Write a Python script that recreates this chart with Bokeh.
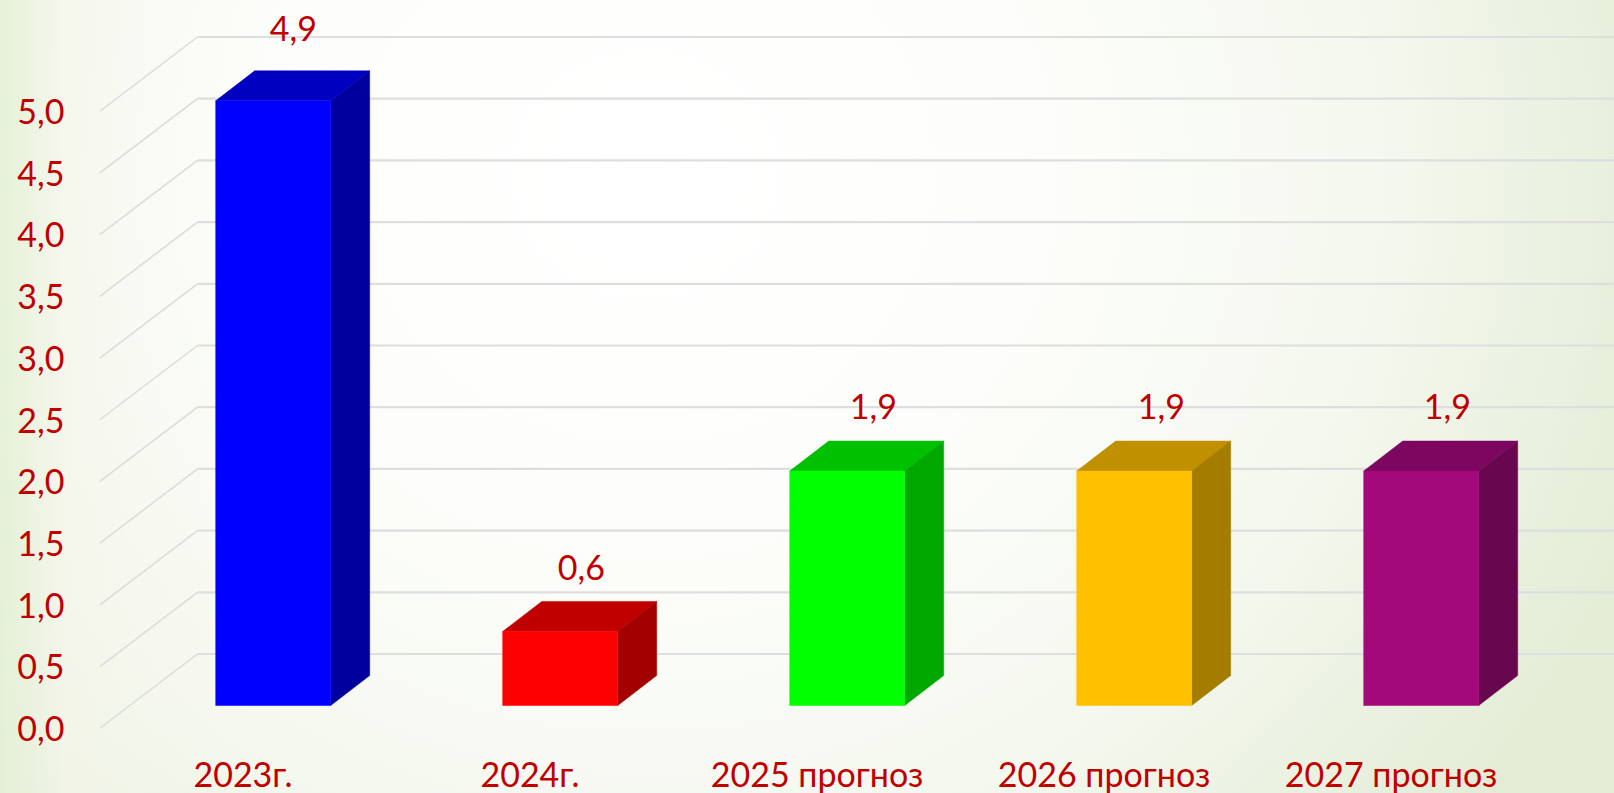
from bokeh.plotting import figure
from bokeh.models import ColumnDataSource, FixedTicker, Range1d
from bokeh.core.properties import value
from bokeh.embed import file_html
from bokeh.resources import INLINE

categories = ["2023г.", "2024г.", "2025 прогноз", "2026 прогноз", "2027 прогноз"]
values = [4.9, 0.6, 1.9, 1.9, 1.9]
value_labels = ["4,9", "0,6", "1,9", "1,9", "1,9"]
y_ticks = [0.0, 0.5, 1.0, 1.5, 2.0, 2.5, 3.0, 3.5, 4.0, 4.5, 5.0]
y_tick_labels = ["0,0", "0,5", "1,0", "1,5", "2,0", "2,5", "3,0", "3,5", "4,0", "4,5", "5,0"]
front_colors = ["#0000ff", "#ff0000", "#00ff00", "#ffc000", "#a3097a"]
top_colors = ["#0000c0", "#c00000", "#00c000", "#c09000", "#7c0660"]
side_colors = ["#00009f", "#a30000", "#00a800", "#a37c00", "#680650"]

RED = "#c00000"
FONT = "Lato"
FS = "34px"

# Layout: 287 px per category, 123.4 px per unit of value
PX_X, PX_Y = 287.0, 123.4
FLOOR_DX, FLOOR_DY = 98 / PX_X, 74.5 / PX_Y        # depth of the chart's floor
BAR_OFF_X, BAR_OFF_Y = 30.2 / PX_X, 23 / PX_Y      # bar front plane within the floor
BAR_HALF = 57.5 / PX_X
BAR_DX, BAR_DY = 39 / PX_X, 30 / PX_Y              # depth of a bar

FRAME_W, FRAME_H = 1515, 728
x_range = Range1d(-0.5, -0.5 + FRAME_W / PX_X)
y_range = Range1d(0, FRAME_H / PX_Y)

p = figure(width=1614, height=793, frame_width=FRAME_W, frame_height=FRAME_H,
           x_range=x_range, y_range=y_range, output_backend="svg", toolbar_location=None,
           min_border_left=99, min_border_right=0, min_border_top=0, min_border_bottom=65,
           background_fill_color=None, border_fill_color=None, outline_line_color=None)
p.styles = {"background-image":
            "linear-gradient(90deg, rgba(226,240,212,0.85) 0%, rgba(244,244,232,0.55) 4%, rgba(246,246,236,0.3) 8%, rgba(255,255,255,0) 17%),"
            "radial-gradient(ellipse 66% 125% at 40% 22%, #ffffff 0%, #fdfefb 35%, #f5f8ef 68%, #e3edd6 100%)"}
p.grid.visible = False

# Walls: gridlines on the back wall and their diagonals on the side wall
rear_x = [-0.5 + FLOOR_DX] * len(y_ticks)
p.segment(x0=[-0.5] * len(y_ticks), y0=y_ticks, x1=rear_x, y1=[v + FLOOR_DY for v in y_ticks],
          line_color="#dadcdc", line_width=1.5)
p.segment(x0=rear_x, y0=[v + FLOOR_DY for v in y_ticks], x1=[x_range.end] * len(y_ticks),
          y1=[v + FLOOR_DY for v in y_ticks], line_color="#dedee0", line_width=2.2)

# Bars
for i, v in enumerate(values):
    x0 = i + BAR_OFF_X - BAR_HALF
    x1 = i + BAR_OFF_X + BAR_HALF
    y0 = BAR_OFF_Y
    y1 = BAR_OFF_Y + v
    p.patch([x0, x1, x1 + BAR_DX, x0 + BAR_DX], [y1, y1, y1 + BAR_DY, y1 + BAR_DY],
            fill_color=top_colors[i], line_color=top_colors[i], line_width=0.5)
    p.patch([x1, x1 + BAR_DX, x1 + BAR_DX, x1], [y0, y0 + BAR_DY, y1 + BAR_DY, y1],
            fill_color=side_colors[i], line_color=side_colors[i], line_width=0.5)
    p.quad(left=x0, right=x1, bottom=y0, top=y1, fill_color=front_colors[i],
           line_color=front_colors[i], line_width=0.5)

# Value labels
src = ColumnDataSource(dict(
    x=[i + BAR_OFF_X + BAR_DX * 0.62 for i in range(len(values))],
    y=[v + BAR_OFF_Y + 0.52 for v in values],
    text=value_labels,
    nudge_x=[-4, -3, 2, 3, 2],
    nudge_y=[-8, 0, 0, 0, 0],
))
p.text(x="x", y="y", text="text", source=src, x_offset="nudge_x", y_offset="nudge_y",
       text_color=RED, text_font=value(FONT), text_font_size=FS,
       text_align="center", text_baseline="middle")

# Axes
p.yaxis.ticker = FixedTicker(ticks=y_ticks)
p.yaxis.major_label_overrides = dict(zip(y_ticks, y_tick_labels))
p.xaxis.ticker = FixedTicker(ticks=list(range(len(categories))))
p.xaxis.major_label_overrides = dict(zip(range(len(categories)), categories))
for ax in (p.xaxis[0], p.yaxis[0]):
    ax.axis_line_color = None
    ax.major_tick_line_color = None
    ax.minor_tick_line_color = None
    ax.major_label_text_color = RED
    ax.major_label_text_font = FONT
    ax.major_label_text_font_size = FS
p.yaxis.major_label_standoff = 29
p.xaxis.major_label_standoff = 18

open("out.html", "w").write(file_html(p, INLINE))
